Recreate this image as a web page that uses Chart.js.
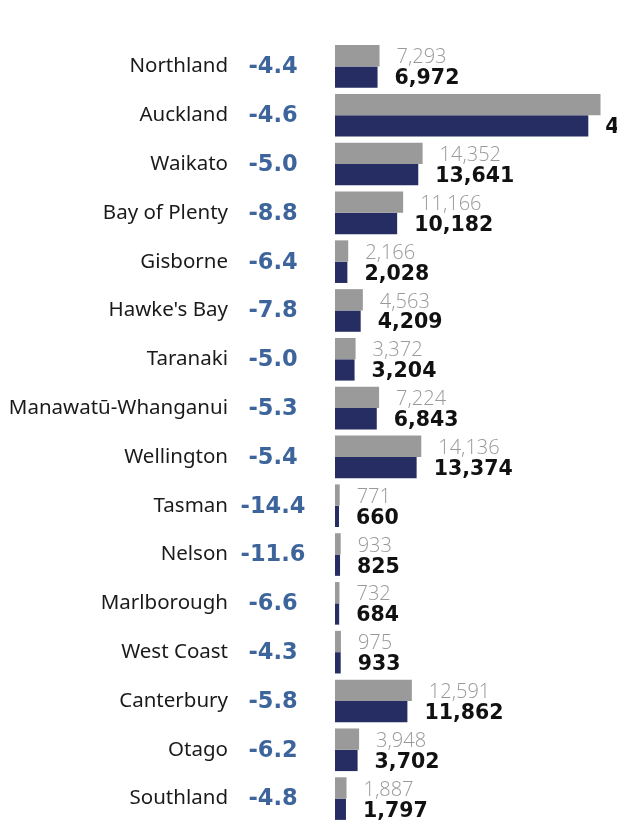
<!DOCTYPE html>
<html>
<head>
<meta charset="utf-8">
<script src="https://cdn.jsdelivr.net/npm/chart.js@4.4.1/dist/chart.umd.min.js"></script>
<style>
  html, body { margin: 0; padding: 0; background: #fff; overflow: hidden; }
  #wrap { position: relative; width: 617px; height: 823px; }
</style>
</head>
<body>
<div id="wrap"><canvas id="chartRegiones"></canvas></div>
<script>
const regiones = ['Northland', 'Auckland', 'Waikato', 'Bay of Plenty', 'Gisborne', "Hawke's Bay",
    'Taranaki', 'Manawatū-Whanganui', 'Wellington', 'Tasman', 'Nelson', 'Marlborough',
    'West Coast', 'Canterbury', 'Otago', 'Southland'];

const anterior = [7293, 43500, 14352, 11166, 2166, 4563, 3372, 7224, 14136, 771, 933, 732, 975, 12591, 3948, 1887];
const actual = [6972, 41500, 13641, 10182, 2028, 4209, 3204, 6843, 13374, 660, 825, 684, 933, 11862, 3702, 1797];
const cambio = ['-4.4', '-4.6', '-5.0', '-8.8', '-6.4', '-7.8', '-5.0', '-5.3', '-5.4', '-14.4', '-11.6', '-6.6', '-4.3', '-5.8', '-6.2', '-4.8'];

const gris = '#9a9a9a';
const azul = '#262d63';

const formato = n => n.toLocaleString('en-US');

// valores al lado de cada barra
const etiquetasBarras = {
    id: 'etiquetasBarras',
    afterDatasetsDraw(chart) {
        const ctx = chart.ctx;
        ctx.save();
        ctx.textBaseline = 'middle';
        ctx.textAlign = 'left';
        chart.data.datasets.forEach((ds, d) => {
            const meta = chart.getDatasetMeta(d);
            meta.data.forEach((bar, i) => {
                if (d === 0) {
                    ctx.font = '300 20px "Open Sans"';
                    ctx.fillStyle = '#999999';
                } else {
                    ctx.font = 'bold 20.5px "DejaVu Sans"';
                    ctx.fillStyle = '#111111';
                }
                ctx.fillText(formato(ds.data[i]), bar.x + 17, bar.y + 2);
            });
        });
        ctx.restore();
    }
};

// porcentaje de cambio entre nombre y barra
const etiquetasCambio = {
    id: 'etiquetasCambio',
    afterDraw(chart) {
        const ctx = chart.ctx;
        const y = chart.scales.y;
        ctx.save();
        ctx.font = 'bold 22.5px "DejaVu Sans"';
        ctx.fillStyle = '#3d659b';
        ctx.textAlign = 'center';
        ctx.textBaseline = 'middle';
        cambio.forEach((c, i) => {
            ctx.fillText(c, 273, y.getPixelForTick(i) + 1);
        });
        ctx.restore();
    }
};

const ctx = document.getElementById('chartRegiones').getContext('2d');

new Chart(ctx, {
    type: 'bar',
    data: {
        labels: regiones,
        datasets: [{
            label: 'Anterior',
            data: anterior,
            backgroundColor: gris,
            categoryPercentage: 0.873,
            barPercentage: 1.0
        }, {
            label: 'Actual',
            data: actual,
            backgroundColor: azul,
            categoryPercentage: 0.873,
            barPercentage: 1.0
        }]
    },
    options: {
        indexAxis: 'y',
        responsive: true,
        maintainAspectRatio: false,
        animation: false,
        layout: { padding: { top: 42, bottom: 0, left: 0, right: 0 } },
        plugins: {
            legend: { display: false },
            tooltip: { enabled: false }
        },
        scales: {
            x: {
                display: false,
                min: 0,
                max: 46200
            },
            y: {
                grid: { display: false, drawTicks: false },
                border: { display: false },
                ticks: {
                    color: '#1a1a1a',
                    font: { family: '"Noto Sans"', size: 20.5 },
                    padding: 107
                },
                afterFit(scale) {
                    scale.width = 335;
                    // el padding de los ticks no debe empujar el area vertical
                    scale.paddingTop = 0;
                    scale.paddingBottom = 0;
                }
            }
        }
    },
    plugins: [etiquetasBarras, etiquetasCambio]
});
</script>
</body>
</html>
